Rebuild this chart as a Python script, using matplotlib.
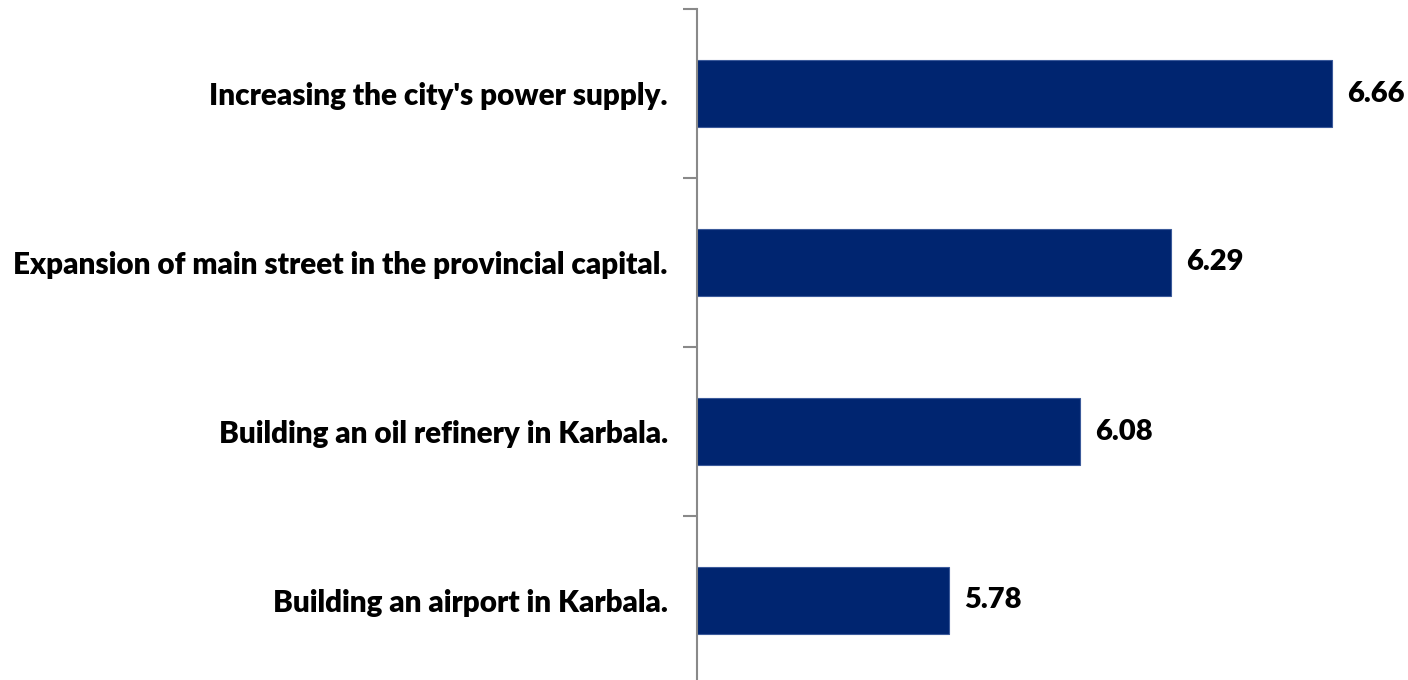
import matplotlib.pyplot as plt

# data (top to bottom as shown)
labels = ["Increasing the city's power supply.",
          "Expansion of main street in the provincial capital.",
          "Building an oil refinery in Karbala.",
          "Building an airport in Karbala."]
values = [6.66, 6.29, 6.08, 5.78]

plt.rcParams['font.family'] = ['Lato', 'DejaVu Sans']

fig = plt.figure(figsize=(14.08, 6.8), dpi=100)
ax = fig.add_axes([697/1408, 1 - 685/680, 705/1408, 676/680])

pos = list(range(len(labels)))[::-1]
ax.barh(pos, values, height=0.4, color='#002570', edgecolor='#3b5a9a', linewidth=0.8)

ax.set_xlim(5.2, 6.82)
ax.set_ylim(-0.5, len(labels) - 0.5)

for p, v in zip(pos, values):
    ax.text(v + 0.035, p, f"{v:.2f}", va='center', ha='left',
            fontsize=21, fontweight='heavy', color='black')

ax.set_yticks(pos)
ax.set_yticklabels(labels, fontsize=21.3, fontweight='heavy')
ax.tick_params(axis='y', length=0, pad=21)
ax.set_yticks([i - 0.5 for i in range(len(labels) + 1)], minor=True)
ax.tick_params(axis='y', which='minor', length=10, width=1.5, color='#898989')

ax.set_xticks([])
for s in ['top', 'right', 'bottom']:
    ax.spines[s].set_visible(False)
ax.spines['left'].set_color('#898989')
ax.spines['left'].set_linewidth(1.5)

fig.savefig('out.png', dpi=100)
